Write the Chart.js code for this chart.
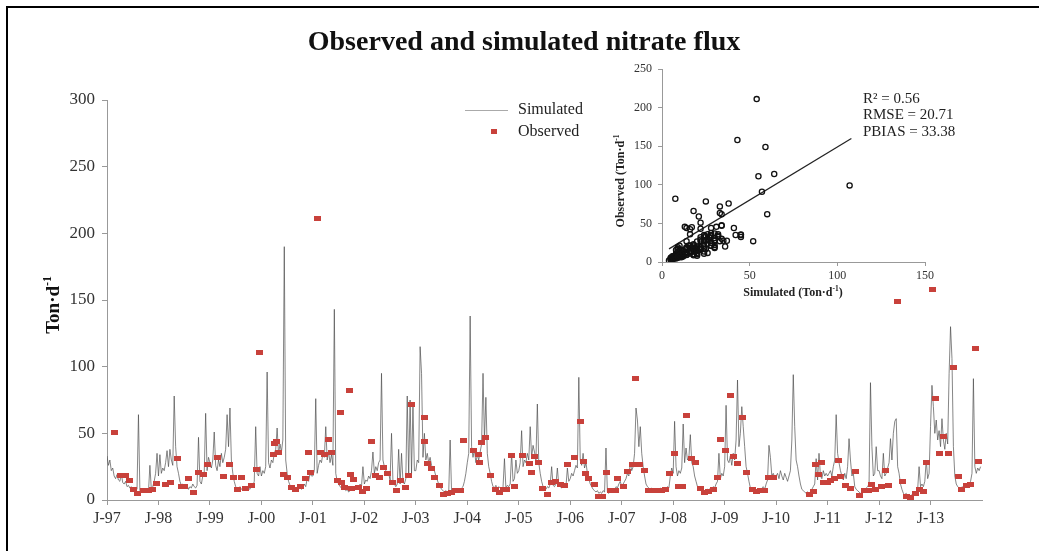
<!DOCTYPE html>
<html>
<head>
<meta charset="utf-8">
<script src="https://cdn.jsdelivr.net/npm/chart.js@4.4.1/dist/chart.umd.min.js"></script>
<style>
  html, body { margin: 0; padding: 0; background: #fff; }
  #wrap { position: relative; width: 1039px; height: 551px; }
  #mainChart { position: absolute; left: 0; top: 0; }
  #insetChart { position: absolute; left: 590px; top: 55px; }
</style>
</head>
<body>
<div id="wrap">
  <canvas id="mainChart" width="1039" height="551"></canvas>
  <canvas id="insetChart" width="410" height="250"></canvas>
</div>
<script>
const SERIF = '"Liberation Serif", "Times New Roman", serif';

// x axis ticks (every January)
const xTickYears = [1997, 1998, 1999, 2000, 2001, 2002, 2003, 2004, 2005, 2006, 2007, 2008, 2009, 2010, 2011, 2012, 2013];
const xTickLabels = ['J-97', 'J-98', 'J-99', 'J-00', 'J-01', 'J-02', 'J-03', 'J-04', 'J-05', 'J-06', 'J-07', 'J-08', 'J-09', 'J-10', 'J-11', 'J-12', 'J-13'];

// simulated flux, 36 values per year (~10-day steps)
const sim1997 = [33,26,30,22,24,18, 16,19,15,14,20,13, 12,14,10,11,9,10, 8,9,7,8,64,7, 6,8,6,7,8,6, 26,8,10,14,20,35];
const sim1998 = [18,34,20,24,22,28, 37,25,38,30,26,78, 40,25,20,14,11,12, 10,9,11,8,10,9, 12,10,9,11,47,14, 12,18,20,65,22,32];
const sim1999 = [28,24,30,51,26,22, 30,25,35,28,32,38, 64,40,69,30,20,14, 10,9,8,10,8,9, 7,8,10,9,8,11, 10,14,55,20,18,25];
const sim2000 = [18,22,20,25,96,28, 24,30,28,35,38,54, 34,42,36,45,190,30, 20,14,11,10,9,10, 8,9,8,10,8,9, 12,10,16,14,20,18];
const sim2001 = [18,22,76,20,26,30, 28,35,32,55,30,36, 28,34,26,143,20,14, 12,10,9,8,9,7, 8,6,7,8,7,9, 8,10,9,12,10,25];
const sim2002 = [12,15,14,18,16,22, 36,20,25,22,28,30, 95,30,25,22,18,20, 15,50,14,12,10,12, 38,12,35,14,12,16, 78,18,75,20,71,22];
const sim2003 = [22,30,28,115,95,32, 50,30,35,28,32,26, 24,22,18,15,12,10, 8,7,6,7,6,5, 45,6,5,6,7,6, 8,7,9,10,14,20];
const sim2004 = [28,35,138,40,32,38, 28,34,30,36,42,95, 45,77,35,25,20,14, 10,9,11,8,10,9, 8,10,31,9,11,10, 12,35,14,16,30,20];
const sim2005 = [22,28,52,25,30,28, 35,30,55,32,41,36, 30,72,28,20,14,10, 9,8,10,9,12,25, 11,10,12,24,11,10, 9,12,11,10,24,14];
const sim2006 = [16,20,18,22,26,24, 92,30,26,35,24,28, 20,16,12,10,8,7, 6,7,5,6,5,7, 6,39,6,5,7,6, 8,7,10,9,12,14];
const sim2007 = [10,12,14,16,20,18, 28,22,25,35,69,60, 40,55,35,25,18,12, 10,9,8,9,7,8, 7,8,7,9,8,7, 9,8,10,9,18,24];
const sim2008 = [20,59,25,18,22,20, 24,57,28,39,30,32, 49,28,25,18,14,10, 9,8,7,8,6,7, 8,7,9,8,10,9, 12,14,35,16,20,18];
const sim2009 = [25,71,30,28,33,26, 35,30,45,90,40,50, 70,55,40,25,20,14, 9,8,7,8,6,7, 8,7,9,10,8,12, 15,41,32,18,20,17];
const sim2010 = [18,20,16,22,18,15, 20,17,14,18,22,45, 94,55,30,25,18,12, 8,7,6,5,6,5, 6,8,10,12,31,15, 35,18,16,22,18,20];
const sim2011 = [18,20,22,18,25,30, 64,35,28,22,18,15, 20,16,25,46,30,18, 20,10,8,7,6,5, 6,8,7,9,10,12, 88,40,18,20,40,22];
const sim2012 = [22,18,16,35,18,20, 24,28,46,30,50,59, 61,25,20,12,8,5, 4,5,3,4,3,4, 5,4,6,8,25,10, 12,10,14,30,16,20];
const sim2013 = [55,86,70,50,60,45, 52,40,61,45,38,50, 42,95,130,106,40,18, 12,10,9,8,10,9, 11,10,12,11,14,20, 91,25,20,24,22,25];
const simYears = [sim1997, sim1998, sim1999, sim2000, sim2001, sim2002, sim2003, sim2004, sim2005,
                  sim2006, sim2007, sim2008, sim2009, sim2010, sim2011, sim2012, sim2013];

// observed samples: date (decimal year), value, and simulated value on that date
const obsDates = [
  1997.14,1997.26,1997.36,1997.44,1997.52,1997.60,1997.70,1997.80,1997.88,1997.96,
  1998.14,1998.23,1998.36,1998.44,1998.51,1998.59,1998.69,1998.78,1998.88,1998.96,
  1999.14,1999.26,1999.38,1999.46,1999.53,1999.61,1999.70,1999.80,1999.90,1999.97,
  2000.23,2000.25,2000.30,2000.34,2000.43,2000.51,2000.58,2000.67,2000.76,2000.85,2000.92,2000.96,
  2001.08,2001.14,2001.23,2001.30,2001.37,2001.47,2001.53,2001.55,2001.62,2001.71,2001.73,2001.75,2001.79,2001.89,2001.97,
  2002.05,2002.13,2002.21,2002.29,2002.38,2002.45,2002.54,2002.62,2002.71,2002.79,2002.86,2002.92,
  2003.16,2003.17,2003.22,2003.30,2003.36,2003.46,2003.54,2003.61,2003.69,2003.77,2003.87,2003.92,
  2004.13,2004.21,2004.24,2004.28,2004.36,2004.46,2004.54,2004.62,2004.70,2004.77,2004.86,2004.91,
  2005.08,2005.20,2005.25,2005.30,2005.38,2005.47,2005.55,2005.63,2005.72,2005.81,2005.88,2005.94,
  2006.08,2006.19,2006.26,2006.30,2006.36,2006.47,2006.54,2006.62,2006.71,2006.78,2006.87,2006.92,
  2007.04,2007.12,2007.20,2007.27,2007.35,2007.44,2007.53,2007.61,2007.70,2007.77,2007.86,2007.93,
  2008.03,2008.11,2008.19,2008.26,2008.35,2008.44,2008.53,2008.61,2008.68,2008.78,2008.86,2008.92,
  2009.02,2009.11,2009.18,2009.24,2009.34,2009.43,2009.54,2009.61,2009.70,2009.78,2009.86,2009.94,
  2010.65,2010.72,2010.76,2010.83,2010.88,2010.92,
  2011.00,2011.06,2011.13,2011.21,2011.26,2011.35,2011.45,2011.55,2011.62,2011.71,2011.79,2011.86,2011.94,
  2012.04,2012.12,2012.19,2012.35,2012.45,2012.54,2012.61,2012.70,2012.78,2012.86,2012.92,
  2013.03,2013.10,2013.18,2013.25,2013.35,2013.44,2013.54,2013.61,2013.70,2013.78,2013.87,2013.93
];
const obsValues = [
  51,18.5,18.5,14.5,8,5,7,7,8,12.5,
  12,13.5,31,10,10.5,16,5.5,21,19,27,
  32,18,27,17,8,17,9,11,23,111,
  34.5,42.5,44,36,19.5,17,9.5,8,10.5,16,36,21,
  211,36,34.5,45.5,35.5,14.5,66,13,9.5,82,19,9,15.5,9.5,6.5,
  9,44,18.5,17,24.5,20,13.5,7,14.5,9.5,18.5,72,
  44,62,27.5,24,17,11,4,5,5.5,7,7.5,45,
  37,34,28,43,47,18.5,8,6,8,8,33.5,10.5,
  33.5,27.5,21,32.5,28,9,4.5,13,14,12,11,27,
  32,59,29,20,16,12,3,3,21,7,7,16,
  10.5,21.5,26.5,91,27,22,7.5,7.5,7.5,7.5,8,20,
  35,10,10,63.5,31,28.5,9,6,6.5,8,16.8,45.5,
  37.5,78.5,32.5,27.5,62,21,8,6.2,7,7,16.8,16.8,
  4.5,6.2,26.5,19.5,28.2,13.5,
  13.5,14.5,15.8,30,17.5,11,8.8,21.2,3.2,7,7,11.8,8,
  10.5,21.8,10.8,149,14,3,2,5,8.2,6.2,27.8,
  158,75.8,35,47.5,35,99.2,17.5,8,10.8,11.8,114,29
];
const obsSimPaired = [
  22,16,14,12,9,7,7,6,8,14,
  20,24,30,18,12,10,9,16,14,22,
  27,30,33,20,10,9,8,8,18,55,
  28,16,28,32,30,18,11,9,9,11,16,15,
  54,26,28,31,45,19,18,14,9,7.6,9,8,8,9,10,
  14,14,22,25,28,20,16,12,12,14,17,33,
  41,34,37,26,22,14,6,6,5,6,9,17,
  30,32,30,22,34,20,10,9,8,10,24,13,
  25,30,28,45,30,12,8,10,11,11,10,14,
  22,21,26,36,18,10,6,5,10,6,7,9,
  11,16,24,57,52,30,9,8,7,8,9,18,
  24,18,20,33,30,25,12,8,7,9,14,13,
  28,25,32,35,60,24,8,7,7,9,24,19,
  6,7,20,22,24,18,
  19,20,22,34,24,16,18,28,6,9,11,26,20,
  20,18,24,59,16,5,4,5,12,11,26,
  43,38,45,34,42,107,14,10,11,12,64,22
];

// fitted line in the scatter inset
const regSim = [4, 108];
const regObs = [17, 160];
const fitStats = ['R\u00B2 = 0.56', 'RMSE = 20.71', 'PBIAS = 33.38'];

// build point lists
const simPoints = [];
simYears.forEach((vals, k) => {
  vals.forEach((v, i) => simPoints.push({ x: xTickYears[0] + k + i / 36, y: v }));
});
const obsPoints = obsDates.map((d, i) => ({ x: d, y: obsValues[i] }));
const pairPoints = obsSimPaired.map((s, i) => ({ x: s, y: obsValues[i] }));
const regPoints = regSim.map((s, i) => ({ x: s, y: regObs[i] }));

const RED = '#C8413B';
const marker = document.createElement('canvas');
marker.width = 7; marker.height = 5;
const mctx = marker.getContext('2d');
mctx.fillStyle = RED;
mctx.fillRect(0, 0, 7, 5);

// text with a superscript part
function supText(ctx, base, sup, tail, x, y, size, weight, align) {
  const big = weight + ' ' + size + 'px ' + SERIF;
  const small = weight + ' ' + (size * 0.62) + 'px ' + SERIF;
  ctx.font = big;
  const wb = ctx.measureText(base).width;
  const wt = tail ? ctx.measureText(tail).width : 0;
  ctx.font = small;
  const ws = ctx.measureText(sup).width;
  const total = wb + ws + wt;
  const sx = align === 'center' ? x - total / 2 : x;
  ctx.textAlign = 'left';
  ctx.textBaseline = 'middle';
  ctx.font = big;
  ctx.fillText(base, sx, y);
  ctx.font = small;
  ctx.fillText(sup, sx + wb, y - size * 0.33);
  if (tail) {
    ctx.font = big;
    ctx.fillText(tail, sx + wb + ws, y);
  }
}

const mainDecor = {
  id: 'mainDecor',
  afterDraw: (chart) => {
    const ctx = chart.ctx;
    ctx.save();
    // frame
    ctx.fillStyle = '#000';
    ctx.fillRect(6, 6, 1033, 2);
    ctx.fillRect(6, 6, 2, 545);
    // title
    ctx.fillStyle = '#111';
    ctx.font = 'bold 28px ' + SERIF;
    ctx.textAlign = 'center';
    ctx.textBaseline = 'middle';
    ctx.fillText('Observed and simulated nitrate flux', 524, 43);
    // y axis title
    ctx.save();
    ctx.translate(54, 305);
    ctx.rotate(-Math.PI / 2);
    supText(ctx, 'Ton\u00B7d', '-1', '', 0, 0, 19, 'bold', 'center');
    ctx.restore();
    // legend
    const ds = chart.data.datasets;
    ctx.strokeStyle = '#aaa';
    ctx.lineWidth = 1;
    ctx.beginPath();
    ctx.moveTo(465, 110.5);
    ctx.lineTo(508, 110.5);
    ctx.stroke();
    ctx.fillStyle = RED;
    ctx.fillRect(491, 129, 6, 5);
    ctx.fillStyle = '#222';
    ctx.font = '16px ' + SERIF;
    ctx.textAlign = 'left';
    ctx.textBaseline = 'middle';
    ctx.fillText(ds[1].label, 518, 110);
    ctx.fillText(ds[0].label, 518, 132);
    ctx.restore();
  }
};

new Chart(document.getElementById('mainChart'), {
  type: 'scatter',
  data: {
    datasets: [
      {
        label: 'Observed',
        data: obsPoints,
        pointStyle: marker,
        pointRadius: 3,
        order: 0
      },
      {
        label: 'Simulated',
        data: simPoints,
        showLine: true,
        borderColor: 'rgba(75,75,75,0.75)',
        borderWidth: 0.9,
        pointRadius: 0,
        tension: 0,
        order: 1
      }
    ]
  },
  options: {
    responsive: false,
    animation: false,
    devicePixelRatio: 1,
    events: [],
    layout: { padding: { left: 0, right: 57, top: 100, bottom: 21 } },
    plugins: { legend: { display: false }, tooltip: { enabled: false } },
    scales: {
      x: {
        type: 'linear',
        min: 1997,
        max: 2014,
        afterBuildTicks: (s) => { s.ticks = xTickYears.map(v => ({ value: v })); },
        afterFit: (s) => { s.height = 30; },
        ticks: {
          callback: (v, i) => xTickLabels[i],
          font: { family: SERIF, size: 16 },
          color: '#333',
          padding: 4,
          maxRotation: 0,
          autoSkip: false
        },
        grid: { drawOnChartArea: false, tickLength: 5, color: '#999' },
        border: { color: '#999' }
      },
      y: {
        min: 0,
        max: 300,
        afterFit: (s) => { s.width = 107; },
        ticks: {
          stepSize: 50,
          font: { family: SERIF, size: 17 },
          color: '#333',
          padding: 7
        },
        grid: { drawOnChartArea: false, tickLength: 5, color: '#999' },
        border: { color: '#999' }
      }
    }
  },
  plugins: [mainDecor]
});

const insetDecor = {
  id: 'insetDecor',
  afterDraw: (chart) => {
    const ctx = chart.ctx;
    ctx.save();
    ctx.fillStyle = '#222';
    supText(ctx, 'Simulated (Ton\u00B7d', '-1', ')', 203, 238, 12, 'bold', 'center');
    ctx.save();
    ctx.translate(31, 126);
    ctx.rotate(-Math.PI / 2);
    supText(ctx, 'Observed (Ton\u00B7d', '-1', '', 0, 0, 12, 'bold', 'center');
    ctx.restore();
    ctx.font = '15px ' + SERIF;
    ctx.textAlign = 'left';
    ctx.textBaseline = 'middle';
    fitStats.forEach((t, i) => ctx.fillText(t, 273, 44 + i * 16.5));
    ctx.restore();
  }
};

new Chart(document.getElementById('insetChart'), {
  type: 'scatter',
  data: {
    datasets: [
      {
        label: 'Pairs',
        data: pairPoints,
        pointStyle: 'circle',
        pointRadius: 2.6,
        borderColor: '#111',
        borderWidth: 1.3,
        backgroundColor: 'rgba(0,0,0,0)'
      },
      {
        label: 'Fit',
        data: regPoints,
        showLine: true,
        borderColor: '#222',
        borderWidth: 1.2,
        pointRadius: 0
      }
    ]
  },
  options: {
    responsive: false,
    animation: false,
    devicePixelRatio: 1,
    events: [],
    layout: { padding: { left: 0, right: 75, top: 14, bottom: 0 } },
    plugins: { legend: { display: false }, tooltip: { enabled: false } },
    scales: {
      x: {
        type: 'linear',
        min: 0,
        max: 150,
        afterFit: (s) => { s.height = 43; },
        ticks: { stepSize: 50, font: { family: SERIF, size: 12 }, color: '#333', padding: 3, maxRotation: 0 },
        grid: { drawOnChartArea: false, tickLength: 4, color: '#999' },
        border: { color: '#999' }
      },
      y: {
        min: 0,
        max: 250,
        afterFit: (s) => { s.width = 72; },
        ticks: { stepSize: 50, font: { family: SERIF, size: 12 }, color: '#333', padding: 6 },
        grid: { drawOnChartArea: false, tickLength: 4, color: '#999' },
        border: { color: '#999' }
      }
    }
  },
  plugins: [insetDecor]
});
</script>
</body>
</html>
